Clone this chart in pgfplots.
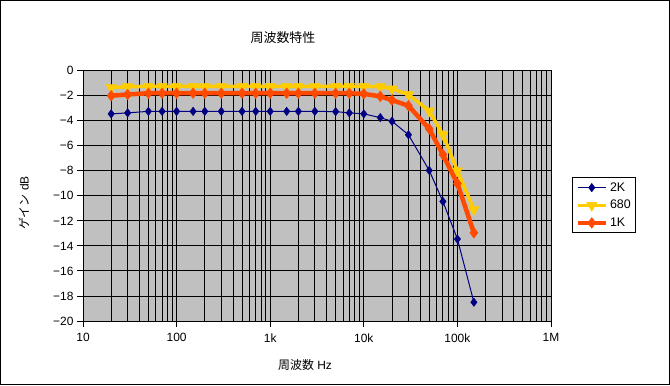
\documentclass[border=0pt]{standalone}
\usepackage{pgfplots}
\pgfplotsset{compat=1.18}
\usepackage{fontspec}
\setmainfont{Liberation Sans}
\newfontfamily\jp{Noto Sans CJK JP}
\definecolor{plotgray}{HTML}{C0C0C0}
\definecolor{navyc}{HTML}{000080}
\definecolor{yel}{HTML}{FFCC00}
\definecolor{ored}{HTML}{FF4A00}
\pgfplotstableread{
f g2k g680 g1k
20 -3.45 -1.35 -2.00
30 -3.37 -1.28 -1.90
50 -3.25 -1.25 -1.80
70 -3.25 -1.25 -1.80
100 -3.25 -1.25 -1.80
150 -3.25 -1.25 -1.80
200 -3.25 -1.25 -1.80
300 -3.25 -1.25 -1.80
500 -3.25 -1.25 -1.80
700 -3.25 -1.25 -1.80
1000 -3.25 -1.25 -1.80
1500 -3.25 -1.25 -1.80
2000 -3.25 -1.25 -1.80
3000 -3.25 -1.25 -1.80
5000 -3.27 -1.25 -1.80
7000 -3.37 -1.25 -1.80
10000 -3.45 -1.25 -1.85
15000 -3.75 -1.28 -2.05
20000 -4.04 -1.45 -2.35
30000 -5.12 -1.90 -2.80
50000 -7.97 -3.22 -4.65
70000 -10.45 -5.10 -6.70
100000 -13.45 -8.00 -9.02
150000 -18.50 -11.10 -12.95
}\gaindata
\begin{document}
\begin{tikzpicture}[x=1bp,y=1bp]
\draw[black, line width=1bp] (0.5,0.5) rectangle (669.5,384.5);
\begin{axis}[
 at={(83bp,64bp)}, anchor=south west,
 scale only axis, width=468bp, height=250.3bp,
 xmode=log, xmin=10, xmax=1e6, ymin=-20, ymax=0,
 xtick={10,100,1000,10000,100000,1000000},
 xticklabels={10,100,1k,10k,100k,1M},
 ytick={-20,-18,...,0},
 yticklabels={−20,−18,−16,−14,−12,−10,−8,−6,−4,−2,0},
 axis background/.style={fill=plotgray},
 xmajorgrids, xminorgrids, ymajorgrids,
 major grid style={black, line width=0.9bp},
 minor grid style={black, line width=0.9bp},
 axis line style={black, line width=0.9bp},
 tick style={black, line width=0.9bp},
 tick align=outside,
 major tick length=6bp, minor tick length=0bp,
 xtick pos=bottom, ytick pos=left,
 tick label style={font=\fontsize{12}{14}\selectfont},
 xticklabel style={yshift=-3bp},
 legend style={at={(1.045,0.575)}, anchor=north west, draw=black, line width=0.9bp, fill=white,
   font=\fontsize{12.5}{15}\selectfont, row sep=3.5bp, inner sep=3bp},
 legend cell align=left,
 legend image code/.code={\draw[mark repeat=2,mark phase=2] plot coordinates {(0bp,0bp) (14bp,0bp) (28bp,0bp)};},
]
\addplot[navyc, line width=1bp, mark=diamond*, mark size=4.2bp, mark options={solid, fill=navyc, draw=navyc, line width=0.5bp}] table[x=f,y=g2k] {\gaindata};
\addlegendentry{2K}
\addplot[yel, line width=3.5bp, mark=triangle*, mark size=6bp, mark options={solid, rotate=180, fill=yel, draw=yel, line width=0.5bp}] table[x=f,y=g680] {\gaindata};
\addlegendentry{680}
\addplot[ored, line width=4.5bp, mark=diamond*, mark size=5.3bp, mark options={solid, fill=ored, draw=ored, line width=0.5bp}] table[x=f,y=g1k] {\gaindata};
\addlegendentry{1K}
\end{axis}
\node[font=\jp\fontsize{13}{15}\selectfont] at (283,347) {周波数特性};
\node[font=\fontsize{12}{14}\selectfont] at (305,20) {{\jp 周波数} Hz};
\node[font=\fontsize{12}{14}\selectfont, rotate=90] at (24,182) {{\jp ゲイン} dB};
\end{tikzpicture}
\end{document}
